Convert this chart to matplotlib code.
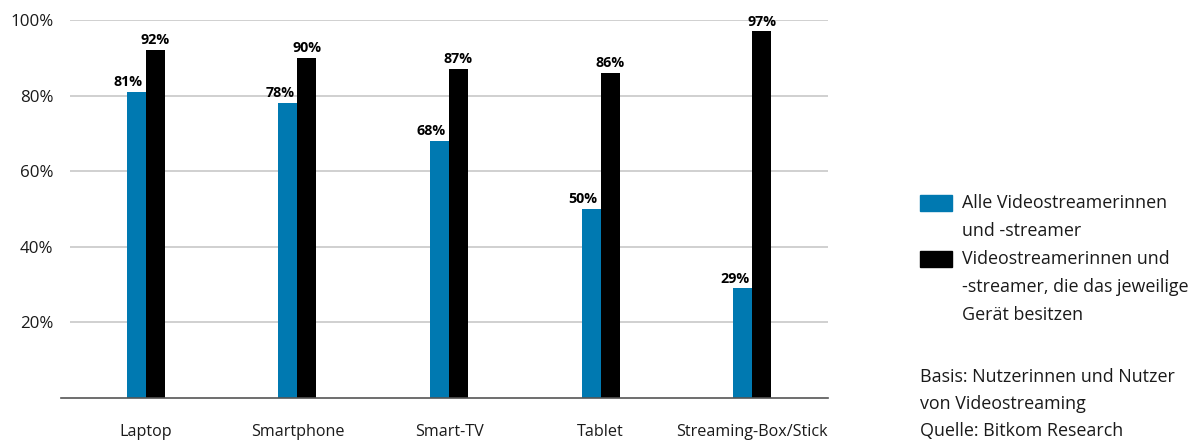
import numpy as np
import matplotlib.pyplot as plt
from matplotlib.patches import Rectangle

plt.rcParams['font.family'] = ['Open Sans', 'DejaVu Sans']

# Daten
kategorien = ["Laptop", "Smartphone", "Smart-TV", "Tablet", "Streaming-Box/Stick"]
alle = [81, 78, 68, 50, 29]
besitzer = [92, 90, 87, 86, 97]
y_ticks = [20, 40, 60, 80, 100]
y_labels = ["20%", "40%", "60%", "80%", "100%"]

serie_namen = ["Alle Videostreamerinnen\nund -streamer",
               "Videostreamerinnen und\n-streamer, die das jeweilige\nGerät besitzen"]
quelle = "Basis: Nutzerinnen und Nutzer\nvon Videostreaming\nQuelle: Bitkom Research"

blau = "#0079b1"
schwarz = "#000000"

W, H = 1195, 441
fig = plt.figure(figsize=(W/100, H/100), dpi=100)
ax = fig.add_axes([70/W, 1 - 398/H, 758/W, 378/H])

x = np.arange(len(kategorien))
w = 0.125
b1 = ax.bar(x - w/2, alle, w, color=blau)
b2 = ax.bar(x + w/2, besitzer, w, color=schwarz)

# Datenbeschriftungen
for r, v in zip(b1, alle):
    ax.annotate(f"{v}%", (r.get_x() + r.get_width(), v), xytext=(-2, 2),
                textcoords="offset points", ha="right", va="bottom",
                fontsize=10.3, fontweight="bold")
for r, v in zip(b2, besitzer):
    ax.annotate(f"{v}%", (r.get_x() + r.get_width()/2, v), xytext=(0, 2),
                textcoords="offset points", ha="center", va="bottom",
                fontsize=10.3, fontweight="bold")

ax.set_xlim(-0.5, len(kategorien) - 0.5)
ax.set_ylim(0, 100)
ax.set_yticks(y_ticks)
ax.set_yticklabels(y_labels, fontsize=12.2, color="#1a1a1a")
ax.set_xticks(x)
ax.set_xticklabels(kategorien, fontsize=11.6, color="#1a1a1a")
ax.tick_params(axis="both", length=0)
ax.tick_params(axis="x", pad=19)
ax.tick_params(axis="y", pad=12)
ax.yaxis.grid(True, color="#c8c8c8", linewidth=1.2)
ax.set_axisbelow(True)
for s in ["top", "right", "left"]:
    ax.spines[s].set_visible(False)
ax.spines["bottom"].set_color("#555555")
ax.spines["bottom"].set_linewidth(1.2)
ax.spines["bottom"].set_bounds(-0.56, len(kategorien) - 0.5)

# Legende (manuell)
farben = [blau, schwarz]
zeile = 28
y0 = 203
for farbe, name in zip(farben, serie_namen):
    fig.add_artist(Rectangle((920/W, 1 - (y0 + 8)/H), 32/W, 16/H,
                             transform=fig.transFigure, color=farbe))
    for teil in name.split("\n"):
        fig.text(962/W, 1 - y0/H, teil, fontsize=12.9, va="center",
                 ha="left", color="#1a1a1a")
        y0 += zeile

# Quelle
y0 = 377
for teil in quelle.split("\n"):
    fig.text(920/W, 1 - y0/H, teil, fontsize=12.9, va="center", ha="left",
             color="#1a1a1a")
    y0 += 27

fig.savefig("out.png", dpi=100)
